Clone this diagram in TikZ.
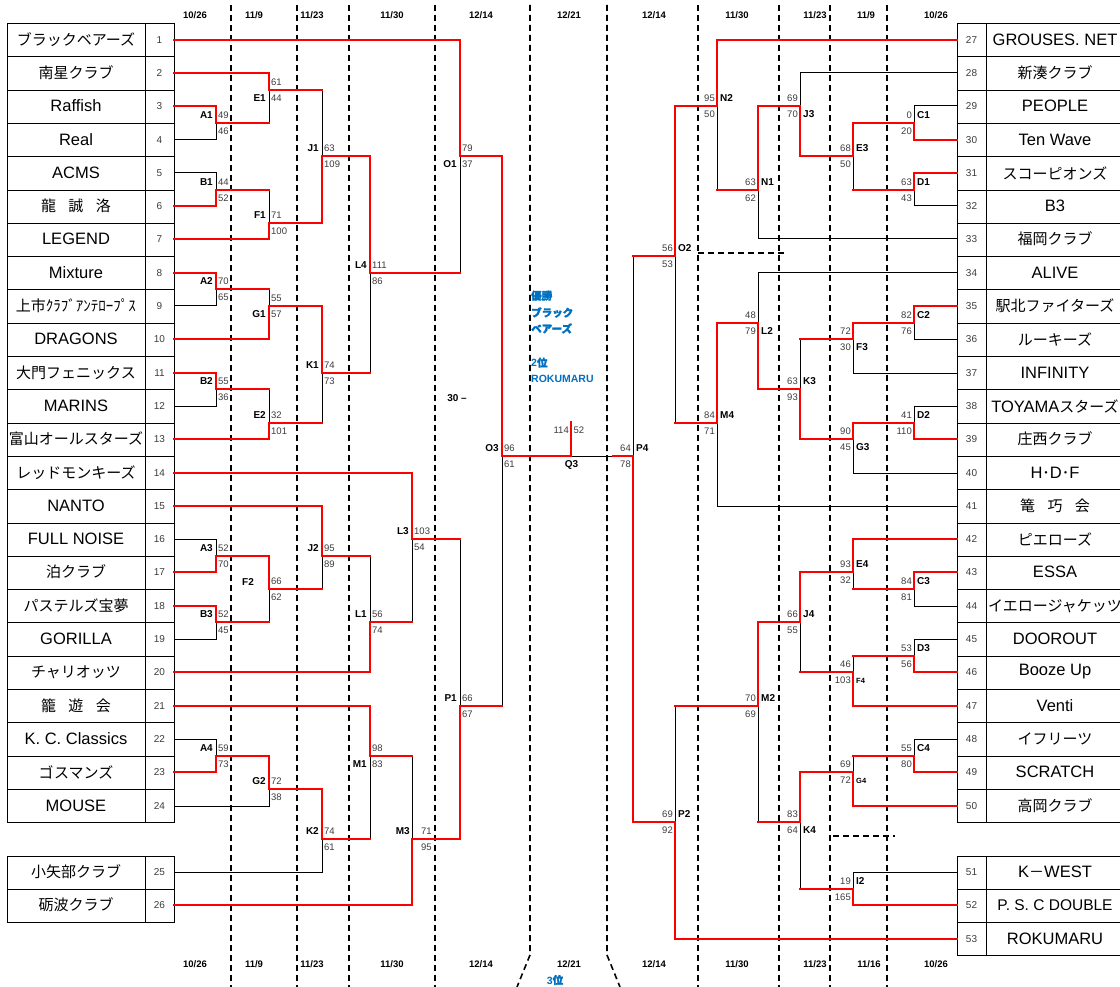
\documentclass[tikz,border=0pt]{standalone}
\usepackage{fontspec}
\setmainfont{Liberation Sans}
\newfontfamily\jp{Noto Sans CJK JP}
\newfontfamily\jpb{Noto Sans CJK JP}[FakeBold=2]
\usetikzlibrary{calc}
\definecolor{rd}{RGB}{255,0,0}
\definecolor{bl}{RGB}{0,112,192}
\definecolor{scg}{RGB}{60,60,60}
\pgfdeclarelayer{top}
\pgfsetlayers{main,top}
\newcommand\latn{\fontsize{16.5}{18}\selectfont}
\newcommand\jpn{\jp\fontsize{15}{17}\selectfont}
\newcommand\spc{\hspace{12.5pt}}
\newcommand\wc[2]{\begin{pgfonlayer}{top}\draw[win] (#1) -- (#2);\end{pgfonlayer}}
\newcommand\lc[2]{\draw[lose] (#1) -- (#2);}
% match: name, x, ytop, yout, ybot, winner t/b
\newcommand\mt[6]{%
 \coordinate (#1) at (#2,{#4});
 \coordinate (#1t) at (#2,{#3});
 \coordinate (#1b) at (#2,{#5});
 \if#6t\draw[lose] (#1) -- (#1b);\begin{pgfonlayer}{top}\draw[win] (#1t) -- (#1);\end{pgfonlayer}%
 \else\draw[lose] (#1t) -- (#1);\begin{pgfonlayer}{top}\draw[win] (#1) -- (#1b);\end{pgfonlayer}\fi}
% scores left side
\newcommand\sL[5]{%
 \node[sc,anchor=mid west] (#1u) at ([shift={(2,-7.5)}]#1) {#2};
 \node[sc,anchor=mid west] (#1d) at ([shift={(2,8.5)}]#1) {#3};
 \if#5t\node[lbl,anchor=mid east] (#1n) at ([shift={(-3,-7.5)}]#1) {#4};%
 \else\node[lbl,anchor=mid east] (#1n) at ([shift={(-3,8.5)}]#1) {#4};\fi}
% scores right side
\newcommand\sR[5]{%
 \node[sc,anchor=mid east] (#1u) at ([shift={(-2,-7.5)}]#1) {#2};
 \node[sc,anchor=mid east] (#1d) at ([shift={(-2,8.5)}]#1) {#3};
 \if#5t\node[lbl,anchor=mid west] (#1n) at ([shift={(3,-7.5)}]#1) {#4};%
 \else\node[lbl,anchor=mid west] (#1n) at ([shift={(3,8.5)}]#1) {#4};\fi}
\newcommand\teamL[3]{\node[namecell] (t#1) at (76,{rowc(#2)}) {#3};\node[numcell] (n#1) at (159.5,{rowc(#2)}) {#1};}
\newcommand\teamR[3]{\node[numcell] (n#1) at (971.5,{rowc(#2)}) {#1};\node[namecell] (t#1) at (1055,{rowc(#2)}) {#3};}
\begin{document}
\begin{tikzpicture}[x=1pt,y=-1pt,
 declare function={rowc(\k)=round(6.35+33.3*\k); rowb(\k)=round(23+33.3*\k);},
 win/.style={draw=rd,line width=2pt,line cap=rect},
 lose/.style={draw=black,line width=1pt,line cap=rect},
 grid/.style={draw=black,line width=1pt,line cap=rect},
 namecell/.style={minimum width=138pt,minimum height=33pt,inner sep=0pt,outer sep=0pt},
 numcell/.style={minimum width=29pt,minimum height=33pt,inner sep=0pt,outer sep=0pt,font=\fontsize{10}{10}\selectfont,text=scg},
 sc/.style={font=\fontsize{9.5}{10}\selectfont,text=scg,inner sep=0pt},
 lbl/.style={font=\fontsize{10}{10}\selectfont\bfseries,inner sep=0pt},
 hdr/.style={font=\fontsize{9.5}{10}\selectfont\bfseries,inner sep=0pt},
 dsh/.style={draw=black,line width=1.6pt,dash pattern=on 6pt off 4pt},
 blu/.style={text=bl,font=\fontsize{10.5}{12}\selectfont\bfseries,anchor=mid west,inner sep=0pt}]
\fill[white] (0,0) rectangle (1120,987);
\useasboundingbox (0,0) rectangle (1120,987);

% dashed date separators
\foreach \xx in {231,297,349,435,698,779,830,887}{\draw[dsh] (\xx,5) -- (\xx,987);}
\draw[dsh] (530,5) -- (530,955) -- (517,987);
\draw[dsh] (607,5) -- (607,955) -- (620,987);
\draw[dsh] (698,253) -- (785,253);
\draw[dsh] (833,836) -- (895,836);

% headers
\foreach \xx/\tt [count=\i] in {195/{10/26},254/{11/9},312/{11/23},392/{11/30},481/{12/14},569/{12/21},654/{12/14},737/{11/30},815/{11/23},866/{11/9},936/{10/26}}{
 \node[hdr] (ht\i) at (\xx,15) {\tt};}
\foreach \xx/\tt [count=\i] in {195/{10/26},254/{11/9},312/{11/23},392/{11/30},481/{12/14},569/{12/21},654/{12/14},737/{11/30},815/{11/23},869/{11/16},936/{10/26}}{
 \node[hdr] (hb\i) at (\xx,964) {\tt};}

% table grids
\foreach \k in {0,...,24}{\draw[grid] (7.5,{rowb(\k)+0.5}) -- (174.5,{rowb(\k)+0.5}); \draw[grid] (957.5,{rowb(\k)+0.5}) -- (1125,{rowb(\k)+0.5});}
\foreach \k in {25,26,27}{\draw[grid] (7.5,{rowb(\k)+0.5}) -- (174.5,{rowb(\k)+0.5});}
\foreach \k in {25,...,28}{\draw[grid] (957.5,{rowb(\k)+0.5}) -- (1125,{rowb(\k)+0.5});}
\foreach \xx in {7.5,145.5,174.5}{\draw[grid] (\xx,{rowb(0)+0.5}) -- (\xx,{rowb(24)+0.5}); \draw[grid] (\xx,{rowb(25)+0.5}) -- (\xx,{rowb(27)+0.5});}
\foreach \xx in {957.5,986.5}{\draw[grid] (\xx,{rowb(0)+0.5}) -- (\xx,{rowb(24)+0.5}); \draw[grid] (\xx,{rowb(25)+0.5}) -- (\xx,{rowb(28)+0.5});}

% left table
\teamL{1}{1}{\jpn ブラックベアーズ}
\teamL{2}{2}{\jpn 南星クラブ}
\teamL{3}{3}{\latn Raffish}
\teamL{4}{4}{\latn Real}
\teamL{5}{5}{\latn ACMS}
\teamL{6}{6}{\jpn 龍\spc 誠\spc 洛}
\teamL{7}{7}{\latn LEGEND}
\teamL{8}{8}{\latn Mixture}
\teamL{9}{9}{\jpn 上市ｸﾗﾌﾞｱﾝﾃﾛｰﾌﾟｽ}
\teamL{10}{10}{\latn DRAGONS}
\teamL{11}{11}{\jpn 大門フェニックス}
\teamL{12}{12}{\latn MARINS}
\teamL{13}{13}{\jpn 富山オールスターズ}
\teamL{14}{14}{\jpn レッドモンキーズ}
\teamL{15}{15}{\latn NANTO}
\teamL{16}{16}{\latn FULL NOISE}
\teamL{17}{17}{\jpn 泊クラブ}
\teamL{18}{18}{\jpn パステルズ宝夢}
\teamL{19}{19}{\latn GORILLA}
\teamL{20}{20}{\jpn チャリオッツ}
\teamL{21}{21}{\jpn 籠\spc 遊\spc 会}
\teamL{22}{22}{\latn K. C. Classics}
\teamL{23}{23}{\jpn ゴスマンズ}
\teamL{24}{24}{\latn MOUSE}
\teamL{25}{26}{\jpn 小矢部クラブ}
\teamL{26}{27}{\jpn 砺波クラブ}

% right table
\teamR{27}{1}{\latn GROUSES. NET}
\teamR{28}{2}{\jpn 新湊クラブ}
\teamR{29}{3}{\latn PEOPLE}
\teamR{30}{4}{\latn Ten Wave}
\teamR{31}{5}{\jpn スコーピオンズ}
\teamR{32}{6}{\latn B3}
\teamR{33}{7}{\jpn 福岡クラブ}
\teamR{34}{8}{\latn ALIVE}
\teamR{35}{9}{\jpn 駅北ファイターズ}
\teamR{36}{10}{\jpn ルーキーズ}
\teamR{37}{11}{\latn INFINITY}
\teamR{38}{12}{{\latn TOYAMA}{\jpn スターズ}}
\teamR{39}{13}{\jpn 庄西クラブ}
\teamR{40}{14}{{\latn H}{\jpn ･}{\latn D}{\jpn ･}{\latn F}}
\teamR{41}{15}{\jpn 篭\spc 巧\spc 会}
\teamR{42}{16}{\jpn ピエローズ}
\teamR{43}{17}{\latn ESSA}
\teamR{44}{18}{\jpn イエロージャケッツ}
\teamR{45}{19}{\latn DOOROUT}
\teamR{46}{20}{\latn Booze Up}
\teamR{47}{21}{\latn Venti}
\teamR{48}{22}{\jpn イフリーツ}
\teamR{49}{23}{\latn SCRATCH}
\teamR{50}{24}{\jpn 高岡クラブ}
\teamR{51}{26}{{\latn K}{\jpn －}{\latn WEST}}
\teamR{52}{27}{\fontsize{15.5}{17}\selectfont P. S. C DOUBLE}
\teamR{53}{28}{\latn ROKUMARU}

% ---------- left bracket ----------
\mt{A1}{216}{rowc(3)}{rowb(3)}{rowc(4)}{t} \wc{n3.east}{A1t} \lc{n4.east}{A1b}
\mt{B1}{216}{rowc(5)}{rowb(5)}{rowc(6)}{b} \lc{n5.east}{B1t} \wc{n6.east}{B1b}
\mt{A2}{216}{rowc(8)}{rowb(8)}{rowc(9)}{t} \wc{n8.east}{A2t} \lc{n9.east}{A2b}
\mt{B2}{216}{rowc(11)}{rowb(11)}{rowc(12)}{t} \wc{n11.east}{B2t} \lc{n12.east}{B2b}
\mt{A3}{216}{rowc(16)}{rowb(16)}{rowc(17)}{b} \lc{n16.east}{A3t} \wc{n17.east}{A3b}
\mt{B3}{216}{rowc(18)}{rowb(18)}{rowc(19)}{t} \wc{n18.east}{B3t} \lc{n19.east}{B3b}
\mt{A4}{216}{rowc(22)}{rowb(22)}{rowc(23)}{b} \lc{n22.east}{A4t} \wc{n23.east}{A4b}
\mt{E1}{269}{rowc(2)}{rowb(2)}{rowb(3)}{t} \wc{n2.east}{E1t} \wc{A1}{E1b}
\mt{F1}{269}{rowb(5)}{rowb(6)}{rowc(7)}{b} \wc{B1}{F1t} \wc{n7.east}{F1b}
\mt{G1}{269}{rowb(8)}{rowc(9)}{rowc(10)}{b} \wc{A2}{G1t} \wc{n10.east}{G1b}
\mt{E2}{269}{rowb(11)}{rowb(12)}{rowc(13)}{b} \wc{B2}{E2t} \wc{n13.east}{E2b}
\mt{F2}{269}{rowb(16)}{rowb(17)}{rowb(18)}{t} \wc{A3}{F2t} \wc{B3}{F2b}
\mt{G2}{269}{rowb(22)}{rowb(23)}{rowc(24)}{t} \wc{A4}{G2t} \lc{n24.east}{G2b}
\mt{J1}{322}{rowb(2)}{rowb(4)}{rowb(6)}{b} \wc{E1}{J1t} \wc{F1}{J1b}
\mt{K1}{322}{rowc(9)}{rowc(11)}{rowb(12)}{t} \wc{G1}{K1t} \wc{E2}{K1b}
\mt{J2}{322}{rowc(15)}{rowb(16)}{rowb(17)}{t} \wc{n15.east}{J2t} \wc{F2}{J2b}
\mt{K2}{322}{rowb(23)}{rowc(25)}{rowc(26)}{t} \wc{G2}{K2t} \lc{n25.east}{K2b}
\mt{L4}{370}{rowb(4)}{rowc(8)}{rowc(11)}{t} \wc{J1}{L4t} \wc{K1}{L4b}
\mt{L1}{370}{rowb(16)}{rowb(18)}{rowc(20)}{b} \wc{J2}{L1t} \wc{n20.east}{L1b}
\mt{M1}{370}{rowc(21)}{rowb(22)}{rowc(25)}{t} \wc{n21.east}{M1t} \wc{K2}{M1b}
\mt{L3}{412}{rowc(14)}{rowc(16)}{rowb(18)}{t} \wc{n14.east}{L3t} \wc{L1}{L3b}
\mt{M3}{412}{rowb(22)}{rowc(25)}{rowc(27)}{b} \wc{M1}{M3t} \wc{n26.east}{M3b}
\mt{O1}{460}{rowc(1)}{rowb(4)}{rowc(8)}{t} \wc{n1.east}{O1t} \wc{L4}{O1b}
\mt{P1}{460}{rowc(16)}{rowc(21)}{rowc(25)}{b} \wc{L3}{P1t} \wc{M3}{P1b}
\mt{O3}{502}{rowb(4)}{rowb(13)}{rowc(21)}{t} \wc{O1}{O3t} \wc{P1}{O3b}

% ---------- right bracket ----------
\mt{C1}{914}{rowc(3)}{rowb(3)}{rowc(4)}{b} \lc{n29.west}{C1t} \wc{n30.west}{C1b}
\mt{D1}{914}{rowc(5)}{rowb(5)}{rowc(6)}{t} \wc{n31.west}{D1t} \lc{n32.west}{D1b}
\mt{C2}{914}{rowc(9)}{rowb(9)}{rowc(10)}{t} \wc{n35.west}{C2t} \lc{n36.west}{C2b}
\mt{D2}{914}{rowc(12)}{rowb(12)}{rowc(13)}{b} \lc{n38.west}{D2t} \wc{n39.west}{D2b}
\mt{C3}{914}{rowc(17)}{rowb(17)}{rowc(18)}{t} \wc{n43.west}{C3t} \lc{n44.west}{C3b}
\mt{D3}{914}{rowc(19)}{rowb(19)}{rowc(20)}{b} \lc{n45.west}{D3t} \wc{n46.west}{D3b}
\mt{C4}{914}{rowc(22)}{rowb(22)}{rowc(23)}{b} \lc{n48.west}{C4t} \wc{n49.west}{C4b}
\mt{E3}{853}{rowb(3)}{rowb(4)}{rowb(5)}{t} \wc{C1}{E3t} \wc{D1}{E3b}
\mt{F3}{853}{rowb(9)}{rowc(10)}{rowc(11)}{t} \wc{C2}{F3t} \lc{n37.west}{F3b}
\mt{G3}{853}{rowb(12)}{rowc(13)}{rowc(14)}{t} \wc{D2}{G3t} \lc{n40.west}{G3b}
\mt{E4}{853}{rowc(16)}{rowc(17)}{rowb(17)}{t} \wc{n42.west}{E4t} \wc{C3}{E4b}
\mt{F4}{853}{rowb(19)}{rowc(20)}{rowc(21)}{b} \wc{D3}{F4t} \wc{n47.west}{F4b}
\mt{G4}{853}{rowb(22)}{rowc(23)}{rowc(24)}{b} \wc{C4}{G4t} \wc{n50.west}{G4b}
\mt{I2}{853}{rowc(26)}{rowb(26)}{rowc(27)}{b} \lc{n51.west}{I2t} \wc{n52.west}{I2b}
\mt{J3}{800}{rowc(2)}{rowc(3)}{rowb(4)}{b} \lc{n28.west}{J3t} \wc{E3}{J3b}
\mt{K3}{800}{rowc(10)}{rowb(11)}{rowc(13)}{b} \wc{F3}{K3t} \wc{G3}{K3b}
\mt{J4}{800}{rowc(17)}{rowb(18)}{rowc(20)}{t} \wc{E4}{J4t} \wc{F4}{J4b}
\mt{K4}{800}{rowc(23)}{rowb(24)}{rowb(26)}{t} \wc{G4}{K4t} \wc{I2}{K4b}
\mt{N1}{758}{rowc(3)}{rowb(5)}{rowc(7)}{t} \wc{J3}{N1t} \lc{n33.west}{N1b}
\mt{L2}{758}{rowc(8)}{rowb(9)}{rowb(11)}{b} \lc{n34.west}{L2t} \wc{K3}{L2b}
\mt{M2}{758}{rowb(18)}{rowc(21)}{rowb(24)}{t} \wc{J4}{M2t} \wc{K4}{M2b}
\mt{N2}{717}{rowc(1)}{rowc(3)}{rowb(5)}{t} \wc{n27.west}{N2t} \wc{N1}{N2b}
\mt{M4}{717}{rowb(9)}{rowb(12)}{rowc(15)}{t} \wc{L2}{M4t} \lc{n41.west}{M4b}
\mt{O2}{675}{rowc(3)}{rowb(7)}{rowb(12)}{t} \wc{N2}{O2t} \wc{M4}{O2b}
\mt{P2}{675}{rowc(21)}{rowb(24)}{rowc(28)}{b} \wc{M2}{P2t} \wc{n53.west}{P2b}
\mt{P4}{633}{rowb(7)}{rowb(13)}{rowb(24)}{b} \wc{O2}{P4t} \wc{P2}{P4b}

% final
\coordinate (Q3) at (571,{rowb(13)});
\coordinate (Q3t) at (571,422);
\coordinate (Q3r) at (613,{rowb(13)});
\wc{O3}{Q3} \wc{Q3}{Q3t} \lc{Q3}{Q3r} \wc{Q3r}{P4}
\node[sc,anchor=mid east] (Q3u) at (569,431) {114};
\node[sc,anchor=mid west] (Q3d) at (573.5,431) {52};
\node[lbl] (Q3n) at (571.5,464.5) {Q3};

% scores left
\sL{A1}{49}{46}{A1}{t}
\sL{B1}{44}{52}{B1}{t}
\sL{A2}{70}{65}{A2}{t}
\sL{B2}{55}{36}{B2}{t}
\sL{A3}{52}{70}{A3}{t}
\sL{B3}{52}{45}{B3}{t}
\sL{A4}{59}{73}{A4}{t}
\sL{E1}{61}{44}{E1}{b}
\sL{F1}{71}{100}{F1}{t}
\sL{G1}{55}{57}{G1}{b}
\sL{E2}{32}{101}{E2}{t}
\sL{F2}{66}{62}{}{t}
\node[lbl] (F2lab) at (248,581.6) {F2};
\sL{G2}{72}{38}{G2}{t}
\sL{J1}{63}{109}{J1}{t}
\sL{K1}{74}{73}{K1}{t}
\sL{J2}{95}{89}{J2}{t}
\sL{K2}{74}{61}{K2}{t}
\sL{L4}{111}{86}{L4}{t}
\sL{L1}{56}{74}{L1}{t}
\sL{M1}{98}{83}{M1}{b}
\sL{L3}{103}{54}{L3}{t}
\node[sc,anchor=mid west] (M3u) at ([shift={(9,-7.5)}]M3) {71};
\node[sc,anchor=mid west] (M3d) at ([shift={(9,8.5)}]M3) {95};
\node[lbl,anchor=mid east] (M3n) at ([shift={(-2,-7.5)}]M3) {M3};
\sL{O1}{79}{37}{O1}{b}
\sL{P1}{66}{67}{P1}{t}
\sL{O3}{96}{61}{O3}{t}

% scores right
\sR{C1}{0}{20}{C1}{t}
\sR{D1}{63}{43}{D1}{t}
\sR{C2}{82}{76}{C2}{t}
\sR{D2}{41}{110}{D2}{t}
\sR{C3}{84}{81}{C3}{t}
\sR{D3}{53}{56}{D3}{t}
\sR{C4}{55}{80}{C4}{t}
\sR{E3}{68}{50}{E3}{t}
\sR{F3}{72}{30}{F3}{b}
\sR{G3}{90}{45}{G3}{b}
\sR{E4}{93}{32}{E4}{t}
\sR{F4}{46}{103}{\fontsize{7.5}{8}\selectfont F4}{b}
\sR{G4}{69}{72}{\fontsize{7.5}{8}\selectfont G4}{b}
\sR{I2}{19}{165}{I2}{t}
\sR{J3}{69}{70}{J3}{b}
\sR{K3}{63}{93}{K3}{t}
\sR{J4}{66}{55}{J4}{t}
\sR{K4}{83}{64}{K4}{b}
\sR{N1}{63}{62}{N1}{t}
\sR{L2}{48}{79}{L2}{b}
\sR{M2}{70}{69}{M2}{t}
\sR{N2}{95}{50}{N2}{t}
\sR{M4}{84}{71}{M4}{t}
\sR{O2}{56}{53}{O2}{t}
\sR{P2}{69}{92}{P2}{t}
\sR{P4}{64}{78}{P4}{t}

% centre texts
\node[lbl] (thirty) at (457,398) {30 –};
\node[blu] (b1) at (531,297) {\jpb 優勝};
\node[blu] (b2) at (531,314) {\jpb ブラック};
\node[blu] (b3) at (531,330) {\jpb ベアーズ};
\node[blu] (b4) at (531,364) {2\jpb 位};
\node[blu] (b5) at (531,380) {ROKUMARU};
\node[blu,anchor=center] (b6) at (555,980) {3\jpb 位};
\end{tikzpicture}
\end{document}
